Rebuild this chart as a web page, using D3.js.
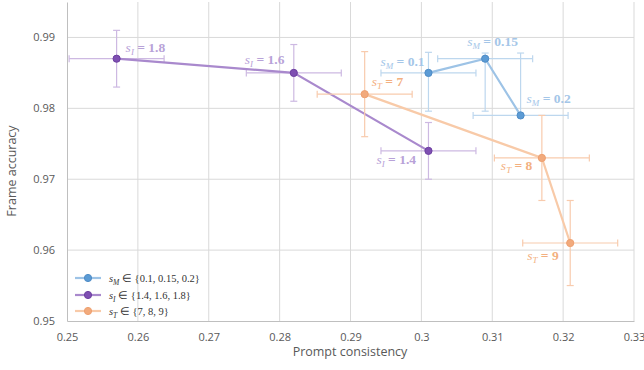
<!DOCTYPE html>
<html>
<head>
<meta charset="utf-8">
<style>
    body { margin: 0; background: #fff; }
    svg { display: block; }
    .tick text { fill: #595959; font-size: 11px; font-family: 'Open Sans', sans-serif; }
    .axis-title { fill: #595959; font-size: 12.5px; font-family: 'Open Sans', sans-serif; }
    .pt-label { font-family: 'Liberation Serif', serif; font-weight: bold; font-size: 13.5px; }
    .legend text { font-family: 'Liberation Serif', serif; font-size: 10.5px; fill: #333; }
</style>
</head>
<body>
<svg width="644" height="370"></svg>
<script src="https://d3js.org/d3.v7.min.js"></script>
<script>
    // s_M series
    const mLabels = ["0.1", "0.15", "0.2"];
    const mX = [0.301, 0.309, 0.314];
    const mY = [0.985, 0.987, 0.979];
    const mXErr = [0.0067, 0.0067, 0.0067];
    const mYLow = [0.9796, 0.9796, 0.979];
    const mYHigh = [0.9879, 0.9878, 0.9878];

    // s_I series
    const iLabels = ["1.8", "1.6", "1.4"];
    const iX = [0.257, 0.282, 0.301];
    const iY = [0.987, 0.985, 0.974];
    const iXErr = [0.0067, 0.0067, 0.0067];
    const iYLow = [0.983, 0.981, 0.970];
    const iYHigh = [0.991, 0.989, 0.978];

    // s_T series
    const tLabels = ["7", "8", "9"];
    const tX = [0.292, 0.317, 0.321];
    const tY = [0.982, 0.973, 0.961];
    const tXErr = [0.0067, 0.0067, 0.0067];
    const tYLow = [0.976, 0.967, 0.955];
    const tYHigh = [0.988, 0.979, 0.967];

    const xTicks = [0.25, 0.26, 0.27, 0.28, 0.29, 0.3, 0.31, 0.32, 0.33];
    const yTicks = [0.95, 0.96, 0.97, 0.98, 0.99];
    const legendSets = ["{0.1, 0.15, 0.2}", "{1.4, 1.6, 1.8}", "{7, 8, 9}"];

    // styling per series (not data)
    const styles = [
        { sub: "M", marker: "#5b9bd5", stroke: "#4f8cc6", line: "#9dc3e6", err: "#bdd7ee", label: "#a4c6e8" },
        { sub: "I", marker: "#7e4fb2", stroke: "#6d3fa0", line: "#a989cd", err: "#cdb9e2", label: "#b8a2d8" },
        { sub: "T", marker: "#f2aa7c", stroke: "#eea070", line: "#f8caa8", err: "#f8cbad", label: "#f3b080" }
    ];
    // label offsets in px from the point (annotation placement)
    const labelOffsets = [
        [[-48, -7], [-18, -13], [6, -12]],
        [[9, -7], [-49, -9], [-52, 13]],
        [[7, -8], [-41, 12], [-43, 17]]
    ];

    function build(labels, xs, ys, xe, yl, yh) {
        return labels.map((l, i) => ({ label: l, x: xs[i], y: ys[i], xe: xe[i], yLow: yl[i], yHigh: yh[i] }));
    }
    const series = [
        build(mLabels, mX, mY, mXErr, mYLow, mYHigh),
        build(iLabels, iX, iY, iXErr, iYLow, iYHigh),
        build(tLabels, tX, tY, tXErr, tYLow, tYHigh)
    ];

    const svg = d3.select("svg");
    const margin = { top: 2, right: 10, bottom: 49, left: 67 };
    const width = 644, height = 370;

    const x = d3.scaleLinear().domain([0.25, 0.33]).range([margin.left, 634]);
    const y = d3.scaleLinear().domain([0.95, 0.995]).range([height - margin.bottom, margin.top]);

    // gridlines
    svg.append("g").selectAll("line").data(xTicks.slice(1)).join("line")
        .attr("x1", d => x(d)).attr("x2", d => x(d))
        .attr("y1", y(0.995)).attr("y2", y(0.95))
        .attr("stroke", "#d9d9d9").attr("stroke-width", 1);
    svg.append("g").selectAll("line").data(yTicks.slice(1)).join("line")
        .attr("x1", x(0.25)).attr("x2", x(0.33))
        .attr("y1", d => y(d)).attr("y2", d => y(d))
        .attr("stroke", "#d9d9d9").attr("stroke-width", 1);

    // axes
    const xAxis = svg.append("g")
        .attr("transform", `translate(0,${y(0.95)})`)
        .call(d3.axisBottom(x).tickValues(xTicks).tickSize(0).tickPadding(12).tickFormat(d3.format("")));
    xAxis.select(".domain").attr("stroke", "#bfbfbf");

    const yAxis = svg.append("g")
        .attr("transform", `translate(${x(0.25)},0)`)
        .call(d3.axisLeft(y).tickValues(yTicks).tickSize(0).tickPadding(12).tickFormat(d3.format(".2f")));
    yAxis.select(".domain").attr("stroke", "#bfbfbf");

    svg.append("text").attr("class", "axis-title")
        .attr("transform", "translate(16,171) rotate(-90)")
        .attr("text-anchor", "middle")
        .text("Frame accuracy");
    svg.append("text").attr("class", "axis-title")
        .attr("x", 350).attr("y", 356)
        .attr("text-anchor", "middle")
        .text("Prompt consistency");

    const line = d3.line().x(d => x(d.x)).y(d => y(d.y));
    const cap = 3.5;

    series.forEach((data, si) => {
        const st = styles[si];
        const g = svg.append("g");

        // error bars
        const eb = g.append("g").attr("stroke", st.err).attr("stroke-width", 1.2);
        data.forEach(d => {
            eb.append("line").attr("x1", x(d.x - d.xe)).attr("x2", x(d.x + d.xe)).attr("y1", y(d.y)).attr("y2", y(d.y));
            eb.append("line").attr("x1", x(d.x - d.xe)).attr("x2", x(d.x - d.xe)).attr("y1", y(d.y) - cap).attr("y2", y(d.y) + cap);
            eb.append("line").attr("x1", x(d.x + d.xe)).attr("x2", x(d.x + d.xe)).attr("y1", y(d.y) - cap).attr("y2", y(d.y) + cap);
            eb.append("line").attr("x1", x(d.x)).attr("x2", x(d.x)).attr("y1", y(d.yHigh)).attr("y2", y(d.yLow));
            eb.append("line").attr("x1", x(d.x) - cap).attr("x2", x(d.x) + cap).attr("y1", y(d.yHigh)).attr("y2", y(d.yHigh));
            if (d.yLow < d.y) {
                eb.append("line").attr("x1", x(d.x) - cap).attr("x2", x(d.x) + cap).attr("y1", y(d.yLow)).attr("y2", y(d.yLow));
            }
        });

        g.append("path").datum(data)
            .attr("d", line)
            .attr("fill", "none")
            .attr("stroke", st.line)
            .attr("stroke-width", 2.2);

        g.selectAll("circle").data(data).join("circle")
            .attr("cx", d => x(d.x)).attr("cy", d => y(d.y))
            .attr("r", 3.6)
            .attr("fill", st.marker)
            .attr("stroke", st.stroke).attr("stroke-width", 1);

        // point labels
        data.forEach((d, i) => {
            const off = labelOffsets[si][i];
            const t = g.append("text").attr("class", "pt-label")
                .attr("x", x(d.x) + off[0]).attr("y", y(d.y) + off[1])
                .attr("fill", st.label);
            t.append("tspan").attr("font-style", "italic").attr("font-weight", "normal").text("s");
            t.append("tspan").attr("font-style", "italic").attr("font-weight", "normal")
                .attr("font-size", "9px").attr("dy", 3).text(st.sub);
            t.append("tspan").attr("dy", -3).text(" = " + d.label);
        });
    });

    // legend
    const legend = svg.append("g").attr("class", "legend");
    const legendRows = [278, 295, 311];
    styles.forEach((st, i) => {
        const row = legend.append("g").attr("transform", `translate(0,${legendRows[i]})`);
        row.append("line").attr("x1", 75).attr("x2", 101).attr("y1", 0).attr("y2", 0)
            .attr("stroke", st.line).attr("stroke-width", 2.2);
        row.append("circle").attr("cx", 88).attr("cy", 0).attr("r", 3.6)
            .attr("fill", st.marker).attr("stroke", st.stroke);
        const t = row.append("text").attr("x", 109).attr("y", 4);
        t.append("tspan").attr("font-style", "italic").text("s");
        t.append("tspan").attr("font-style", "italic").attr("font-size", "7.5px").attr("dy", 3).text(st.sub);
        t.append("tspan").attr("dy", -3).text(" \u2208 " + legendSets[i]);
    });
</script>
</body>
</html>
